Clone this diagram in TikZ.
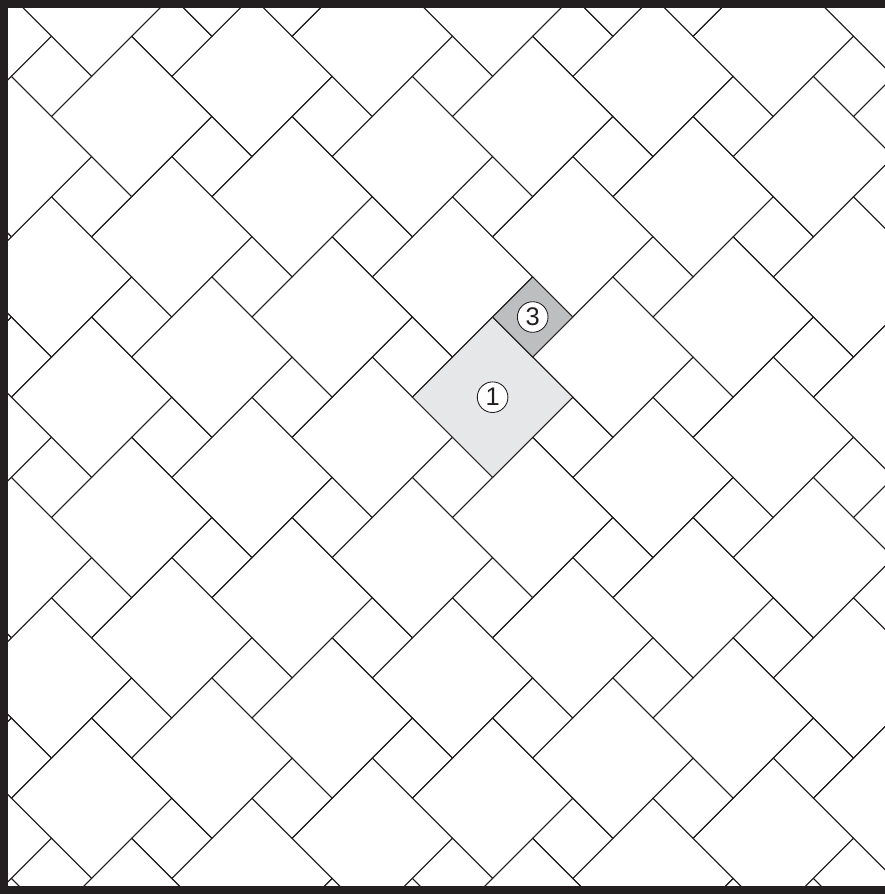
\documentclass[tikz,border=0pt]{standalone}
\usepackage{fontspec}
\setmainfont{Liberation Sans}
\usetikzlibrary{calc}
\definecolor{ink}{HTML}{231F20}
\definecolor{paleFill}{HTML}{E6E7E8}
\definecolor{darkFill}{HTML}{BCBEC0}

\begin{document}
\begin{tikzpicture}[x=0.02cm, y=-0.02cm,
  tile/.style={draw=ink, line width=0.55pt, line join=miter},
  badge/.style={circle, draw=ink, fill=white, text=ink, line width=0.5pt, minimum size=30.6*0.02cm, inner sep=0pt, font=\fontsize{14.5}{14.5}\selectfont}]
\def\sm{40.1}
\def\bg{80.2}
\useasboundingbox (0,0) rectangle (885,894);
\coordinate (O) at (492.6,317.0);
% tiling, clipped to the frame
\begin{scope}
\clip (8,8) rectangle (890,886.5);
\foreach \m in {-7,...,7} {
  \foreach \n in {-7,...,7} {
    \coordinate (P) at ($(O)+({\sm*(3*\m+\n)},{\sm*(3*\n-\m)})$);
    \draw[tile] (P) -- ++(\bg,\bg) -- ++(-\bg,\bg) -- ++(-\bg,-\bg) -- cycle;
    \draw[tile] (P) -- ++(\sm,-\sm) -- ++(\sm,\sm) -- ++(-\sm,\sm) -- cycle;
  }
}
\end{scope}
% marked tiles
\draw[tile, fill=paleFill] (O) -- ++(\bg,\bg) -- ++(-\bg,\bg) -- ++(-\bg,-\bg) -- cycle;
\draw[tile, fill=darkFill] (O) -- ++(\sm,-\sm) -- ++(\sm,\sm) -- ++(-\sm,\sm) -- cycle;
\node[badge] (one) at ($(O)+(0,\bg)$) {1};
\node[badge] (three) at ($(O)+(\sm,0)$) {3};
% frame
\draw[ink, line width=4.6pt] (900,4.3) -- (4.3,4.3) -- (4.3,890.3) -- (900,890.3);
\end{tikzpicture}
\end{document}
